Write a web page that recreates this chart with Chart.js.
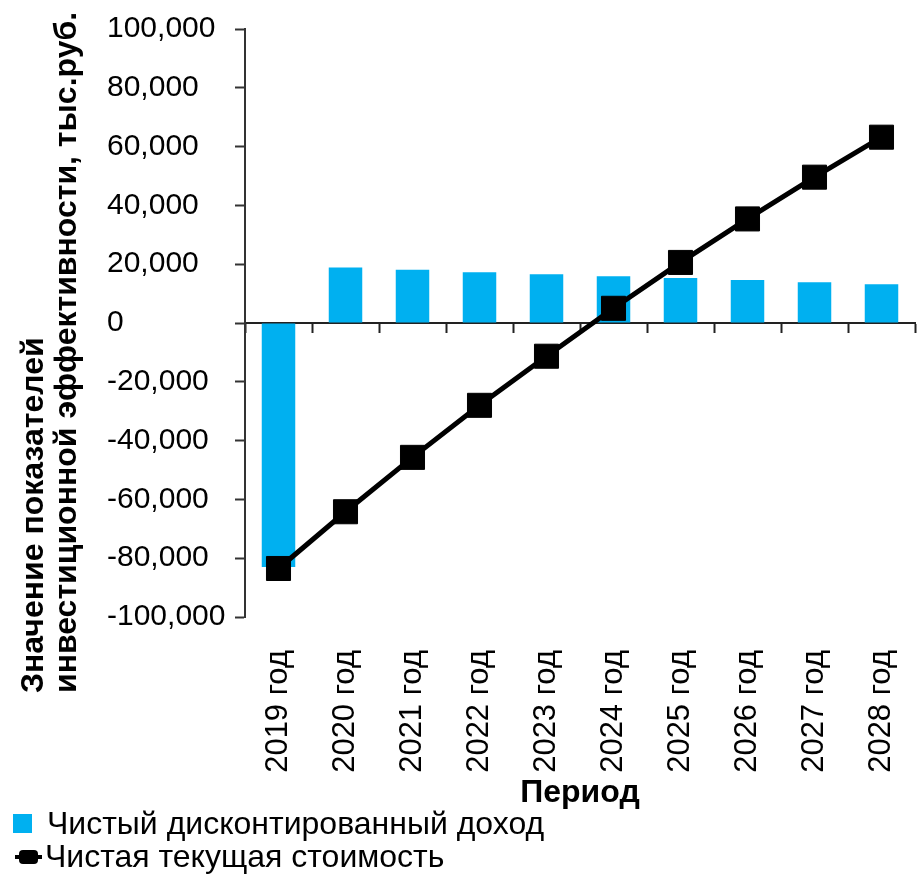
<!DOCTYPE html>
<html>
<head>
<meta charset="utf-8">
<script src="https://cdn.jsdelivr.net/npm/chart.js@4"></script>
<style>
  html, body { margin: 0; padding: 0; background: #fff; }
  #wrap { position: relative; width: 922px; height: 874px; }
  #legend { position: absolute; left: 0; top: 807px; font: 32px 'Liberation Sans', Arial, sans-serif; color: #000; }
  .item { display: flex; align-items: center; height: 33px; white-space: nowrap; }
  .sw-bar { width: 19px; height: 19px; margin: 0 15px 0 13px; }
  .sw-line { position: relative; width: 27px; height: 16px; margin: 0 3px 0 15px; }
  .sw-line i { position: absolute; left: 0; right: 0; top: 6px; height: 4px; background: #000; }
  .sw-line b { position: absolute; left: 4px; top: 1px; width: 19px; height: 14px; background: #000; border-radius: 4px; }
</style>
</head>
<body>
<div id="wrap">
  <canvas id="chart" width="922" height="874"></canvas>
  <div id="legend"></div>
</div>
<script>
// Data (тыс.руб.)
const categories = ['2019 год', '2020 год', '2021 год', '2022 год', '2023 год',
                    '2024 год', '2025 год', '2026 год', '2027 год', '2028 год'];
const nddValues = [-83000, 18900, 18100, 17300, 16600, 15900, 15300, 14600, 13900, 13200];
const npvValues = [-83500, -64200, -45700, -28000, -11300, 5000, 20600, 35400, 49600, 63200];
const seriesNames = ['Чистый дисконтированный доход', 'Чистая текущая стоимость'];
const yTitleLines = ['Значение показателей', 'инвестиционной эффективности, тыс.руб.'];
const xTitle = 'Период';

const FONT = "'Liberation Sans', Arial, sans-serif";
const BLUE = '#00B0F0';

// rotated two-line y title, both lines start at the same bottom point
const yTitlePlugin = {
    id: 'yTitle',
    afterDraw(chart) {
        const ctx = chart.ctx;
        ctx.save();
        ctx.font = 'bold 32px ' + FONT;
        ctx.fillStyle = '#000';
        ctx.translate(34, 693);
        ctx.rotate(-Math.PI / 2);
        ctx.textAlign = 'left';
        ctx.textBaseline = 'middle';
        yTitleLines.forEach(function (line, i) {
            ctx.fillText(line, 0, i * 33);
        });
        ctx.restore();
    }
};

function noSidePadding(s) {
    s.paddingLeft = 0;
    s.paddingRight = 0;
}

const ctx = document.getElementById('chart').getContext('2d');
new Chart(ctx, {
    data: {
        labels: categories,
        datasets: [
            {
                type: 'line',
                label: seriesNames[1],
                data: npvValues,
                borderColor: '#000',
                borderWidth: 5,
                pointStyle: 'rect',
                pointRadius: 17,
                pointBackgroundColor: '#000',
                pointBorderColor: '#000',
                pointBorderWidth: 1,
                tension: 0,
                order: 0
            },
            {
                type: 'bar',
                label: seriesNames[0],
                data: nddValues,
                backgroundColor: BLUE,
                barPercentage: 0.5,
                categoryPercentage: 1,
                order: 1
            }
        ]
    },
    options: {
        responsive: false,
        animation: false,
        layout: { autoPadding: false, padding: { left: 107, right: 7, top: 29, bottom: 62 } },
        plugins: {
            legend: { display: false },
            tooltip: { enabled: false }
        },
        scales: {
            x: {
                type: 'category',
                offset: true,
                grid: { display: false, drawTicks: false },
                border: { display: false },
                ticks: {
                    autoSkip: false,
                    minRotation: 90,
                    maxRotation: 90,
                    padding: 33,
                    color: '#000',
                    font: { family: FONT, size: 31 }
                },
                title: {
                    display: true,
                    text: xTitle,
                    color: '#000',
                    padding: { top: 0, bottom: 0 },
                    font: { family: FONT, size: 32, weight: 'bold' }
                },
                afterFit: function (s) {
                    s.height = 195;
                    noSidePadding(s);
                }
            },
            // zero line with category boundary ticks
            x2: {
                type: 'category',
                axis: 'x',
                position: { y: 0 },
                offset: true,
                grid: { offset: true, drawOnChartArea: false, tickLength: 9, tickWidth: 2, tickColor: '#222' },
                border: { display: true, color: '#222', width: 2 },
                ticks: { display: false },
                afterFit: noSidePadding
            },
            y: {
                min: -100000,
                max: 100000,
                grid: { drawOnChartArea: false, tickLength: 10, tickWidth: 2, tickColor: '#333' },
                border: { display: true, color: '#333', width: 2 },
                ticks: {
                    stepSize: 20000,
                    crossAlign: 'far',
                    color: '#000',
                    font: { family: FONT, size: 30 },
                    callback: function (v) { return v.toLocaleString('en-US'); }
                },
                afterFit: function (s) { s.width = 138; }
            }
        }
    },
    plugins: [yTitlePlugin]
});

// legend, stacked like the original
const legend = document.getElementById('legend');
legend.innerHTML =
    '<div class="item"><span class="sw-bar" style="background:' + BLUE + '"></span>' + seriesNames[0] + '</div>' +
    '<div class="item"><span class="sw-line"><i></i><b></b></span>' + seriesNames[1] + '</div>';
</script>
</body>
</html>
